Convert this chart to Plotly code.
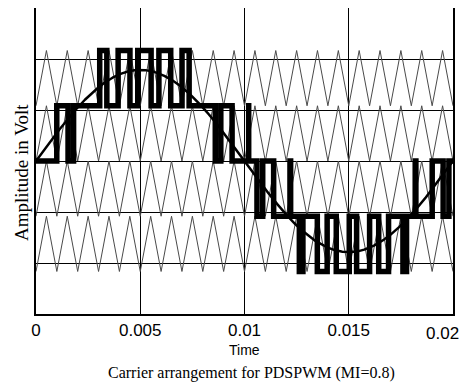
import numpy as np
import plotly.graph_objects as go

# ---------------- data ----------------
t_end = 0.02                 # s, one fundamental period shown
f_ref = 50                   # Hz, sinusoidal reference
f_carrier = 1000             # Hz, triangular carriers (20 per period)
ref_amplitude = 1.65         # reference peak, in carrier-band units (MI = 0.8)
carrier_bottoms = [-2, -1, 0, 1]   # lower edge of each phase-disposed carrier band
output_delay = 0.0002        # s, lag of the plotted staircase output
x_tick_vals = [0, 0.005, 0.01, 0.015, 0.02]
x_tick_text = ["0", "0.005", "0.01", "0.015", ""]
last_tick_text = "0.02"
y_half_range = 2.77          # axis limit in carrier-band units
n_y_grid = 3                 # grid divisions on each side of zero

# ---------------- build the traces ----------------
n_half = int(round(t_end * f_carrier * 2))
carrier_t = np.arange(n_half + 1) / (2 * f_carrier)
carrier_shape = np.arange(n_half + 1) % 2

t = np.linspace(0, t_end, 20001)
ref = ref_amplitude * np.sin(2 * np.pi * f_ref * t)

phase = t * f_carrier
tri = 2 * np.abs(phase - np.round(phase))
level = np.full_like(t, -len(carrier_bottoms) / 2)
for b in carrier_bottoms:
    level += (ref > b + tri).astype(float)
level[0] = 0.0
t_out = t + output_delay
keep = t_out <= t_end
t_out = np.concatenate([[0.0], t_out[keep]])
lvl_out = np.concatenate([[level[0]], level[keep]])
chg = np.concatenate([[0], np.nonzero(np.diff(lvl_out))[0] + 1, [len(lvl_out) - 1]])
out_x = t_out[chg]
out_y = lvl_out[chg]

fig = go.Figure()
for b in carrier_bottoms:
    fig.add_trace(go.Scatter(x=carrier_t, y=b + carrier_shape, mode="lines",
                             line=dict(color="#4a4a4a", width=1),
                             hoverinfo="skip", showlegend=False))
fig.add_trace(go.Scatter(x=out_x, y=out_y, mode="lines", line_shape="hv",
                         line=dict(color="black", width=5.5),
                         hoverinfo="skip", showlegend=False))
fig.add_trace(go.Scatter(x=t, y=ref, mode="lines",
                         line=dict(color="black", width=2.5),
                         hoverinfo="skip", showlegend=False))

# page body has an 8px margin, so the figure is drawn from (8, 8)
fig.update_layout(
    width=470, height=385,
    margin=dict(l=28, r=25, t=0, b=79, autoexpand=False),
    paper_bgcolor="white", plot_bgcolor="white",
    showlegend=False,
)
fig.update_xaxes(range=[0, t_end], tickvals=x_tick_vals, ticktext=x_tick_text,
                 showgrid=True, gridcolor="black", gridwidth=1, zeroline=False,
                 showline=True, linecolor="black", linewidth=2, mirror=True,
                 ticks="", tickfont=dict(family="Liberation Sans, Arial", size=17, color="black"),
                 automargin=False)
fig.update_yaxes(range=[-y_half_range, y_half_range], tick0=0,
                 dtick=y_half_range / n_y_grid, showticklabels=False,
                 showgrid=True, gridcolor="black", gridwidth=1, zeroline=False,
                 showline=True, linecolor="black", linewidth=2, mirror=True,
                 ticks="", automargin=False)

def px_x(x):
    return (x - 36) / 417

def px_y(y):
    return (314 - y) / 306

fig.add_annotation(text=last_tick_text, xref="paper", yref="paper",
                   x=px_x(442), y=px_y(333), xanchor="center", yanchor="middle",
                   showarrow=False,
                   font=dict(family="Liberation Sans, Arial", size=17, color="black"))
fig.add_annotation(text="Amplitude in Volt", xref="paper", yref="paper",
                   x=px_x(21), y=px_y(173), xanchor="center", yanchor="middle",
                   textangle=-90, showarrow=False, borderpad=0,
                   font=dict(family="Liberation Serif, Times New Roman", size=19, color="black"))
fig.add_annotation(text="Time", xref="paper", yref="paper",
                   x=px_x(244), y=px_y(350), xanchor="center", yanchor="middle",
                   showarrow=False,
                   font=dict(family="Liberation Sans, Arial", size=14, color="black"))
fig.add_annotation(text="Carrier arrangement for PDSPWM (MI=0.8)", xref="paper", yref="paper",
                   x=px_x(251), y=px_y(373), xanchor="center", yanchor="middle",
                   showarrow=False,
                   font=dict(family="Liberation Serif, Times New Roman", size=16, color="black"))

fig.write_html("out.html")
